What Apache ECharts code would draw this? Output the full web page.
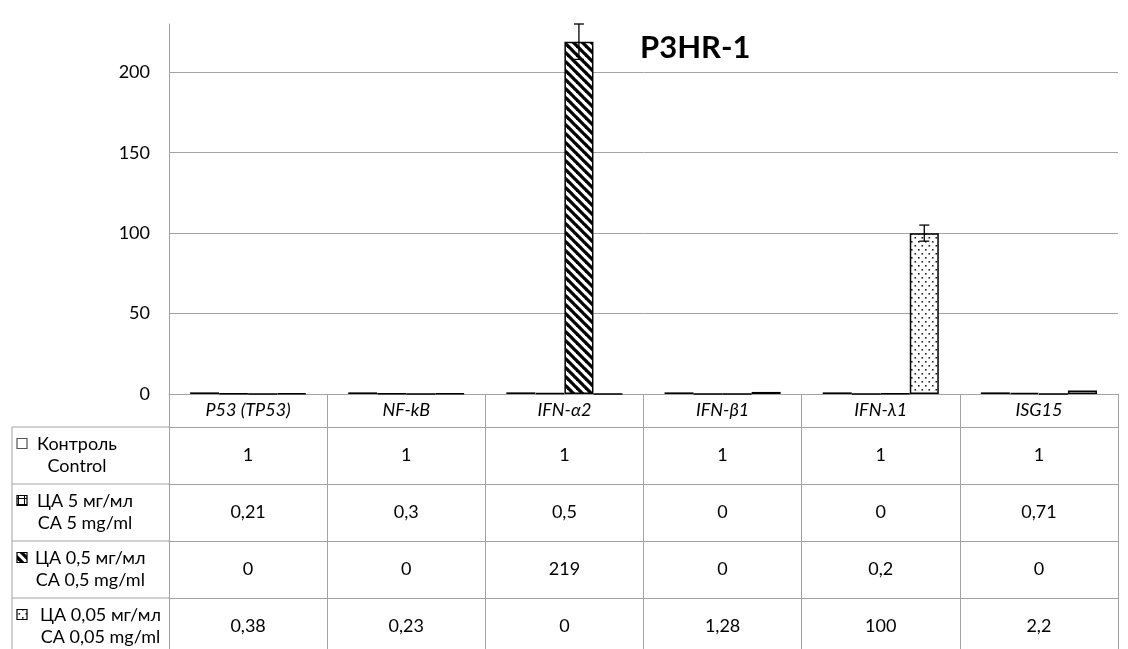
<!DOCTYPE html>
<html><head><meta charset="utf-8">
<script src="https://cdn.jsdelivr.net/npm/echarts@6/dist/echarts.min.js"></script>
<style>html,body{margin:0;padding:0;background:#fff}#c{width:1128px;height:649px}</style>
</head><body><div id="c"></div>
<script>
// ---- data ----
const categories = ['P53 (TP53)', 'NF-kB', 'IFN-α2', 'IFN-β1', 'IFN-λ1', 'ISG15'];
const seriesRu = ['Контроль', 'ЦА 5 мг/мл', 'ЦА 0,5 мг/мл', 'ЦА 0,05 мг/мл'];
const seriesEn = ['Control', 'CA 5 mg/ml', 'CA 0,5 mg/ml', 'CA 0,05 mg/ml'];
const control = [1, 1, 1, 1, 1, 1];
const ca5 = [0.21, 0.3, 0.5, 0, 0, 0.71];
const ca05 = [0, 0, 219, 0, 0.2, 0];
const ca005 = [0.38, 0.23, 0, 1.28, 100, 2.2];
const ca05Err = [0, 0, 11, 0, 0, 0];
const ca005Err = [0, 0, 0, 0, 5, 0];
const yTicks = [0, 50, 100, 150, 200];
const chartTitle = 'P3HR-1';

// ---- layout / style ----
const W = 1128, H = 649;
const GRID_L = 169, GRID_R = 10, GRID_T = 24, GRID_B = 255;
const AXIS_Y = H - GRID_B;
const HEADER_H = 33, ROW_H = 57, TABLE_L = 12;
const GRAY = '#a3a3a3';
const TXT = '#000';
const FONT = 'Lato, "Open Sans", sans-serif';
const FS = 18;
const CAT_GAP = 0.266;
const LABEL_START = [37, 37, 35, 40];

const values = [control, ca5, ca05, ca005];
const errs = [null, null, ca05Err, ca005Err];
const fmt = v => String(v).replace('.', ',');

function makePattern(kind) {
  const c = document.createElement('canvas');
  const ctx = c.getContext('2d');
  if (kind === 'plain') {
    c.width = c.height = 4; ctx.fillStyle = '#fff'; ctx.fillRect(0, 0, 4, 4);
  } else if (kind === 'grid') {
    c.width = c.height = 6; ctx.fillStyle = '#fff'; ctx.fillRect(0, 0, 6, 6);
    ctx.fillStyle = '#000'; ctx.fillRect(0, 0, 6, 1); ctx.fillRect(0, 0, 1, 6);
  } else if (kind === 'hatch') {
    const s = 9; c.width = c.height = s;
    ctx.fillStyle = '#fff'; ctx.fillRect(0, 0, s, s);
    ctx.strokeStyle = '#000'; ctx.lineWidth = 3.3;
    for (const k of [-s, 0, s]) { ctx.beginPath(); ctx.moveTo(-2, -2 + k); ctx.lineTo(s + 2, s + 2 + k); ctx.stroke(); }
  } else if (kind === 'dots') {
    c.width = 7; c.height = 8; ctx.fillStyle = '#fff'; ctx.fillRect(0, 0, 7, 8);
    ctx.fillStyle = '#222'; ctx.fillRect(1, 1, 1.6, 1.6); ctx.fillRect(4.5, 5, 1.6, 1.6);
  }
  return { image: c, repeat: 'repeat' };
}
const fills = [makePattern('plain'), makePattern('grid'), makePattern('hatch'), makePattern('dots')];

const mctx = document.createElement('canvas').getContext('2d');
mctx.font = FS + 'px ' + FONT;

const chart = echarts.init(document.getElementById('c'), null, { renderer: 'canvas' });

const barSeries = values.map((arr, i) => ({
  type: 'bar', name: seriesRu[i], data: arr,
  barGap: '0%', barCategoryGap: (CAT_GAP * 100) + '%',
  itemStyle: { color: fills[i], borderColor: '#000', borderWidth: 1.5 },
  emphasis: { disabled: true }, silent: true, z: 2
}));

const errData = [];
errs.forEach((e, s) => { if (!e) return; e.forEach((v, ci) => { if (v > 0) errData.push([ci, values[s][ci], v, s]); }); });

const errSeries = {
  type: 'custom', data: errData, z: 5, silent: true,
  encode: { x: 0, y: 1 },
  renderItem: function (params, api) {
    const cat = api.value(0), val = api.value(1), err = api.value(2), s = api.value(3);
    const band = api.size([1, 0])[0];
    const groupW = band * (1 - CAT_GAP);
    const bw = groupW / 4;
    const c = api.coord([cat, val]);
    const x = c[0] - groupW / 2 + bw * (s + 0.5);
    const yt = api.coord([cat, val + err])[1];
    const yb = api.coord([cat, val - err])[1];
    const cap = 5;
    const st = { stroke: '#000', lineWidth: 1.3 };
    return { type: 'group', children: [
      { type: 'line', shape: { x1: x, y1: yt, x2: x, y2: yb }, style: st },
      { type: 'line', shape: { x1: x - cap, y1: yt, x2: x + cap, y2: yt }, style: st },
      { type: 'line', shape: { x1: x - cap, y1: yb, x2: x + cap, y2: yb }, style: st }
    ]};
  }
};

const tableAxes = values.map((arr, i) => ({
  type: 'category', data: categories, position: 'bottom',
  offset: HEADER_H + ROW_H * i,
  axisLine: { show: true, onZero: false, lineStyle: { color: GRAY, width: 1 } },
  axisTick: { show: false },
  splitLine: { show: false },
  axisLabel: { interval: 0, margin: 19, fontSize: FS, color: TXT, fontFamily: FONT,
    formatter: (v, idx) => fmt(arr[idx]) }
}));

const graphics = [];
graphics.push({ type: 'line', silent: true, shape: { x1: TABLE_L, y1: AXIS_Y + HEADER_H, x2: TABLE_L, y2: H }, style: { stroke: GRAY, lineWidth: 1 } });
for (let i = 0; i < 4; i++) {
  const top = AXIS_Y + HEADER_H + ROW_H * i;
  graphics.push({ type: 'line', silent: true, shape: { x1: TABLE_L, y1: top, x2: GRID_L, y2: top }, style: { stroke: GRAY, lineWidth: 1 } });
  const iconStroke = i === 0 ? '#555' : '#000';
  graphics.push({ type: 'rect', silent: true, shape: { x: 17, y: top + 11.5, width: 10, height: 10 }, style: { fill: fills[i], stroke: iconStroke, lineWidth: 1.2 } });
  const wmax = Math.max(mctx.measureText(seriesRu[i]).width, mctx.measureText(seriesEn[i]).width);
  const cx = LABEL_START[i] + wmax / 2;
  graphics.push({ type: 'text', silent: true, style: {
    text: seriesRu[i] + '\n' + seriesEn[i], x: cx, y: top + ROW_H / 2,
    textAlign: 'center', align: 'center', textVerticalAlign: 'middle', verticalAlign: 'middle',
    font: FS + 'px ' + FONT, lineHeight: 22, fill: TXT } });
}

const option = {
  animation: false,
  backgroundColor: '#fff',
  title: { text: chartTitle, left: 635, top: 27, textStyle: { fontSize: 31, fontWeight: 'bold', color: TXT, fontFamily: FONT } },
  grid: { left: GRID_L, right: GRID_R, top: GRID_T, bottom: GRID_B, containLabel: false, outerBoundsMode: 'none' },
  xAxis: [{
    type: 'category', data: categories, position: 'bottom',
    axisLine: { show: true, onZero: false, lineStyle: { color: GRAY, width: 1 } },
    axisTick: { show: true, interval: 0, alignWithLabel: false, length: GRID_B, lineStyle: { color: GRAY, width: 1 } },
    axisLabel: { interval: 0, margin: 7, fontSize: FS, fontStyle: 'italic', color: TXT, fontFamily: FONT },
    splitLine: { show: false }
  }].concat(tableAxes),
  yAxis: {
    type: 'value', min: yTicks[0], max: 230, interval: yTicks[1] - yTicks[0],
    axisLine: { show: true, lineStyle: { color: GRAY, width: 1 } },
    axisTick: { show: false },
    axisLabel: { margin: 19, fontSize: 18, color: TXT, fontFamily: FONT, showMaxLabel: false,
      formatter: v => (yTicks.indexOf(v) >= 0 ? String(v) : '') },
    splitLine: { show: true, showMaxLine: false, lineStyle: { color: GRAY, width: 1 } }
  },
  series: barSeries.concat([errSeries]),
  graphic: graphics
};
chart.setOption(option);
</script>
</body></html>
